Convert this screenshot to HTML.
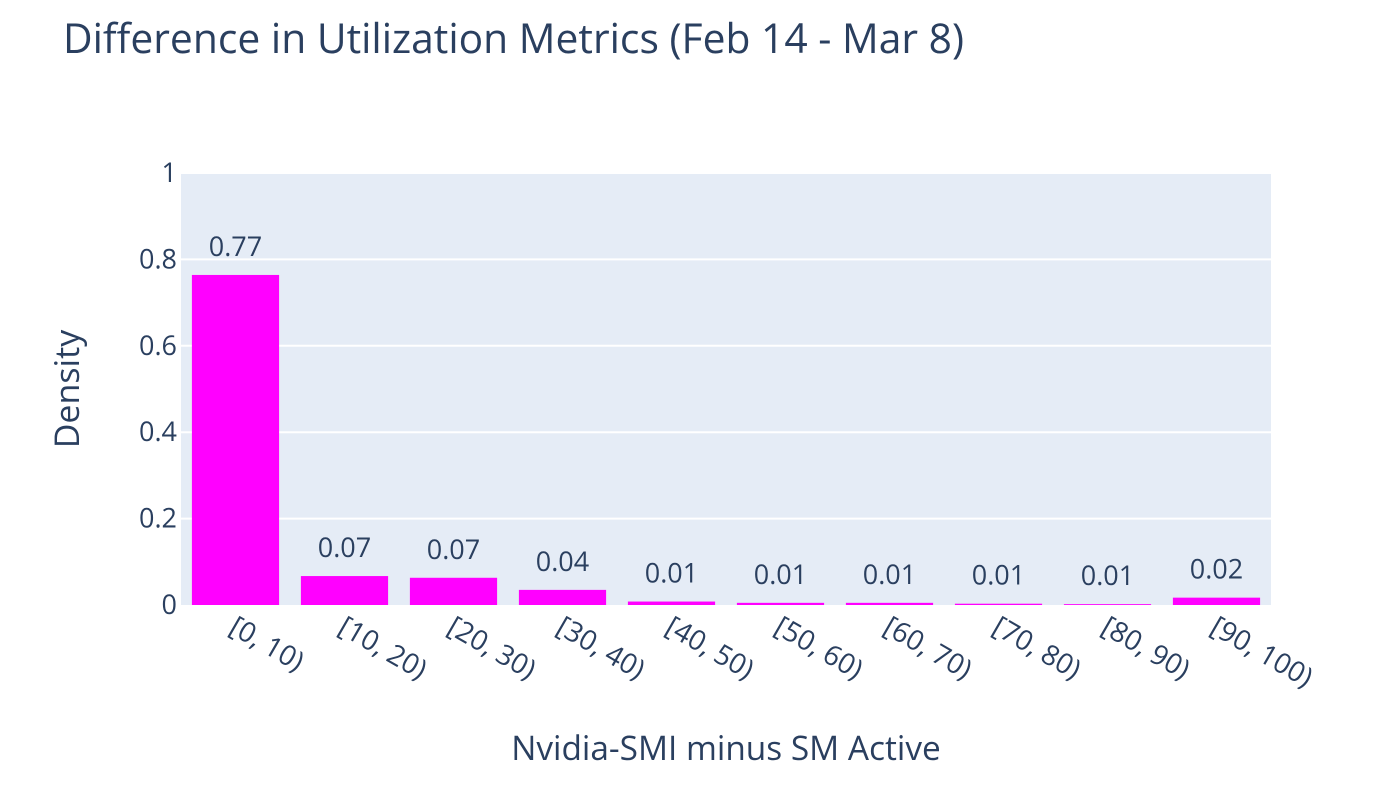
<!DOCTYPE html>
<html><head><meta charset="utf-8"><style>
body{margin:0;background:#fff}
text{font-family:"Open Sans","Liberation Sans","DejaVu Sans",sans-serif;fill:#2a3f5f}
</style></head><body>
<svg id="chart" width="1398" height="807">
<text x="63" y="53" font-size="40.8">Difference in Utilization Metrics (Feb 14 - Mar 8)</text>
<rect x="181" y="173" width="1090" height="432" fill="#e5ecf6"/>
<g id="grid"></g><g id="bars"></g><g id="xt"></g><g id="yt"></g>
<text x="726" y="760" font-size="33.4" text-anchor="middle">Nvidia-SMI minus SM Active</text>
<text transform="translate(79,389) rotate(-90)" font-size="34" text-anchor="middle">Density</text>
</svg>
<script>
const categories=["[0, 10)","[10, 20)","[20, 30)","[30, 40)","[40, 50)","[50, 60)","[60, 70)","[70, 80)","[80, 90)","[90, 100)"];
const values=[0.764,0.067,0.063,0.035,0.008,0.005,0.005,0.003,0.002,0.017];
const valueLabels=["0.77","0.07","0.07","0.04","0.01","0.01","0.01","0.01","0.01","0.02"];
const yTicks=[0,0.2,0.4,0.6,0.8,1];
const yTickLabels=["0","0.2","0.4","0.6","0.8","1"];
const NS="http://www.w3.org/2000/svg";
const x0=181,w=1090,y0=605,h=432;
const band=w/categories.length;
const xs=i=>x0+band*(i+0.5);
const ys=v=>y0-v*h;
function mk(t,a,p){const e=document.createElementNS(NS,t);for(const k in a)e.setAttribute(k,a[k]);document.getElementById(p).appendChild(e);return e;}
yTicks.forEach((v,i)=>{
 if(v>0){const l=mk('line',{x1:x0,x2:x0+w,y1:ys(v),y2:ys(v),stroke:'#fff','stroke-width':2},'grid');
 
 }
 const t=mk('text',{x:177,y:ys(v)+9,'font-size':27,'text-anchor':'end'},'yt');t.textContent=yTickLabels[i];
 
 
});
categories.forEach((c,i)=>{
 const bw=band*0.8;
 const r=mk('rect',{x:xs(i)-bw/2,y:ys(values[i]),width:bw,height:values[i]*h,fill:'#ff00ff'},'bars');
 
 
 const t=mk('text',{x:xs(i),y:ys(values[i])-19,'font-size':27,'text-anchor':'middle'},'bars');t.textContent=valueLabels[i];
 
 
 const xl=mk('text',{x:xs(i)-8,y:632,'font-size':28,transform:`rotate(30 ${xs(i)-8} 632)`},'xt');xl.textContent=c;
 
 
});
</script>
</body></html>
